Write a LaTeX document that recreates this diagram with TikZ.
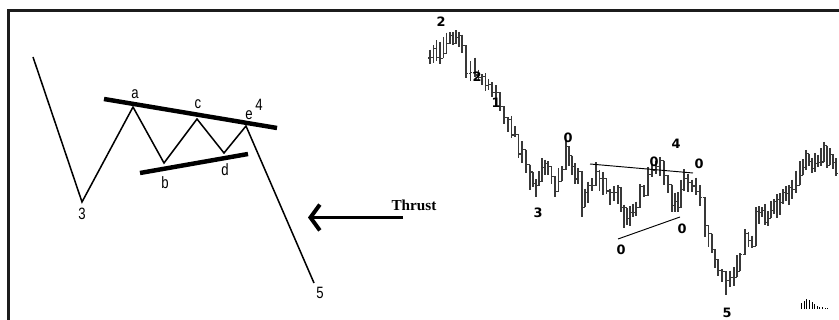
\documentclass[tikz,border=0pt]{standalone}
\usepackage{fontspec}
\usepackage{tikz}
\usetikzlibrary{arrows.meta,positioning}
\newfontfamily\waveFont[FakeStretch=0.8]{Liberation Sans}
\newfontfamily\chartFont{DejaVu Sans}
\newfontfamily\thrustFont{Liberation Serif}
\definecolor{ink}{HTML}{1C1C1C}
\definecolor{barink}{HTML}{383838}
\tikzset{
  frame/.style={draw=ink,line width=2.6pt},
  wave/.style={draw=black,line width=1.3pt,line join=miter},
  trendline/.style={draw=black,line width=3.8pt},
  thinline/.style={draw=black,line width=0.8pt},
  barline/.style={draw=barink,line width=0.9pt},
  wavelbl/.style={font=\waveFont\fontsize{14}{14}\selectfont,inner sep=1pt},
  chartlbl/.style={font=\chartFont\bfseries\fontsize{11}{11}\selectfont,inner sep=1pt},
  thrustarrow/.style={draw=black,line width=3.4pt,
                      -{Straight Barb[length=8pt,width=22pt]}}
}

\begin{document}
\begin{tikzpicture}[x=0.03cm,y=-0.03cm]
  \useasboundingbox (0,0) rectangle (839,320);
  % Frame
  \draw[frame] (8.5,320) -- (8.5,10.3) -- (839,10.3);

  % Left sketch
  \coordinate (w0) at (33,57);
  \coordinate (w3) at (82,202);
  \coordinate (wa) at (133,107);
  \coordinate (wb) at (164,163);
  \coordinate (wc) at (197,119);
  \coordinate (wd) at (224,153);
  \coordinate (we) at (246,126);
  \coordinate (w5) at (314,283);
  \draw[wave] (w0)--(w3)--(wa)--(wb)--(wc)--(wd)--(we)--(w5);
  \coordinate (upperL) at (104,99);
  \coordinate (upperR) at (277,128);
  \coordinate (lowerL) at (140,173);
  \coordinate (lowerR) at (248,154);
  \draw[trendline] (upperL)--(upperR);
  \draw[trendline] (lowerL)--(lowerR);
  \node[wavelbl] (lbla) at (135,94) {a};
  \node[wavelbl] (lblc) at (198,104) {c};
  \node[wavelbl] (lble) at (249,115) {e};
  \node[wavelbl] (lblfour) at (259,105) {4};
  \node[wavelbl] (lblb) at (165,183) {b};
  \node[wavelbl] (lbld) at (225,170) {d};
  \node[wavelbl] (lblthree) at (82,214) {3};
  \node[wavelbl] (lblfive) at (320,293) {5};

  % Thrust
  \coordinate (thrustTail) at (403,217.5);
  \coordinate (thrustTip) at (308,217.5);
  \draw[thrustarrow] (thrustTail)--(thrustTip);
  \node[font=\thrustFont\bfseries\fontsize{13}{13}\selectfont,inner sep=0pt]
    (thrust) at (414,205.5) {Thrust};

  % Bar chart
  \pgfmathsetseed{42}
  \xdef\lastc{58}
  \foreach \x/\y [remember=\x as \px (initially 427),
                  remember=\y as \py (initially 58)] in
    {430/56, 440/50, 450/40, 456/33, 462/42, 466/72, 475/70, 482/78,
     492/92, 500/105, 508/125, 515/135, 522/155, 530/178, 536/188,
     542/170, 548/165, 555/185, 562/170, 566/155, 572/168, 578/178,
     582/205, 588/190, 596/172, 603/185, 610/200, 618/195, 624/215,
     630/220, 636/205, 644/190, 652/172, 660/170, 668/182, 672/205,
     678/200, 684/180, 692/185, 700/195, 705/225, 712/250, 718/270,
     726/280, 734/278, 740/260, 745/242, 752/240, 756/215, 762/210,
     768/218, 774/205, 780/200, 786/195, 792/190, 800/168, 806/163,
     812/165, 818/160, 824/150, 830/160, 836/170}{
    \pgfmathtruncatemacro\n{max(1,round((\x-\px)/3.7))}
    \foreach \i in {1,...,\n}{
      \pgfmathsetmacro\bx{\px+(\x-\px)*\i/\n}
      \pgfmathsetmacro\by{\py+(\y-\py)*\i/\n+4*rand}
      \pgfmathsetmacro\bh{5+7*rnd}
      \pgfmathsetmacro\blo{min(\lastc,\by-\bh)}
      \pgfmathsetmacro\bhi{max(\lastc,\by+\bh)}
      \pgfmathsetmacro\bc{\by+\bh*0.8*rand}
      \draw[barline] (\bx,\blo) -- (\bx,\bhi)
        (\bx,\lastc) -- ++(-1.6,0) (\bx,\bc) -- ++(1.6,0);
      \xdef\lastc{\bc}
    }
  }
  \coordinate (triUpL) at (590,164);
  \coordinate (triUpR) at (693,173);
  \coordinate (triLoL) at (618,239);
  \coordinate (triLoR) at (680,217);
  \draw[thinline] (triUpL)--(triUpR);
  \draw[thinline] (triLoL)--(triLoR);
  \node[chartlbl] (ctwoA) at (441,22) {2};
  \node[chartlbl] (ctwoB) at (477,77) {2};
  \node[chartlbl] (cone) at (496,103) {1};
  \node[chartlbl] (czeroA) at (568,138) {0};
  \node[chartlbl] (cthree) at (538,213) {3};
  \node[chartlbl] (czeroB) at (654,162) {0};
  \node[chartlbl] (cfour) at (676,144) {4};
  \node[chartlbl] (czeroC) at (699,164) {0};
  \node[chartlbl] (czeroD) at (682,229) {0};
  \node[chartlbl] (czeroE) at (621,250) {0};
  \node[chartlbl] (cfive) at (727,313) {5};
  \foreach \h [count=\k] in {5.7,8,9.7,9,6.7,4.7,3,2.3,1.7,1.3,0.8}
    \draw[thinline,line width=0.7pt] (799+2.6*\k,309) -- ++(0,-\h);
\end{tikzpicture}
\end{document}
